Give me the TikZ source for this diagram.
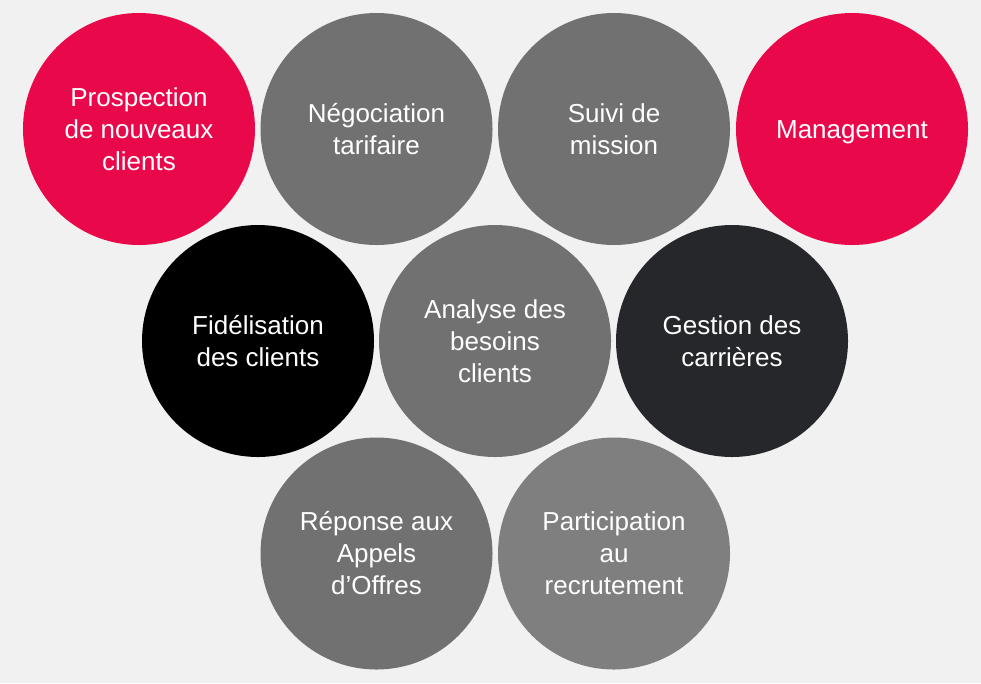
\documentclass[tikz,border=0pt]{standalone}
\usepackage{fontspec}
\setmainfont{Liberation Sans}
\definecolor{bg}{HTML}{F1F1F1}
\definecolor{cred}{HTML}{E9094B}
\definecolor{cgray}{HTML}{717171}
\definecolor{cblack}{HTML}{000000}
\definecolor{cdark}{HTML}{26272B}
\definecolor{clight}{HTML}{7F7F7F}
\begin{document}
\begin{tikzpicture}[x=1pt,y=-1pt,
  bubble/.style={circle,minimum size=232pt,inner sep=0pt,text=white,align=center,
    font=\fontsize{26}{32}\selectfont}]
\fill[bg] (0,0) rectangle (981,683);
\useasboundingbox (0,0) rectangle (981,683);
\node[bubble,fill=cred] (n1) at (139,129) {Prospection\\de nouveaux\\clients};
\node[bubble,fill=cgray] (n2) at (376.5,129) {Négociation\\tarifaire};
\node[bubble,fill=cgray] (n3) at (614,129) {Suivi de\\mission};
\node[bubble,fill=cred] (n4) at (852,129) {\rule[-5pt]{0pt}{29pt}Management};
\node[bubble,fill=cblack] (n5) at (258,341) {Fidélisation\\des clients};
\node[bubble,fill=cgray] (n6) at (495,341) {Analyse des\\besoins\\clients};
\node[bubble,fill=cdark] (n7) at (732,341) {Gestion des\\carrières};
\node[bubble,fill=cgray] (n8) at (376.5,553.5) {Réponse aux\\Appels\\d’Offres};
\node[bubble,fill=clight] (n9) at (614,553.5) {Participation\\au\\recrutement};
\end{tikzpicture}
\end{document}
